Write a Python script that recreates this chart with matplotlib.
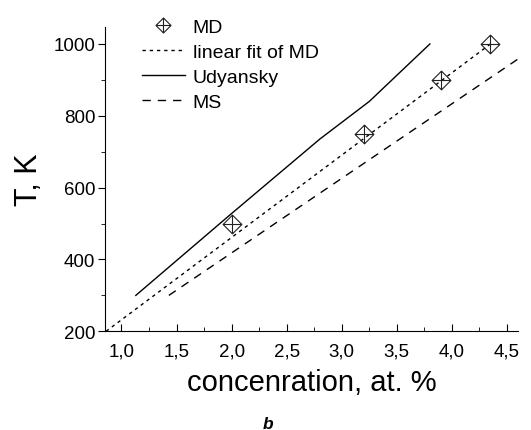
import matplotlib.pyplot as plt
from matplotlib.path import Path
from matplotlib.ticker import MultipleLocator, FuncFormatter

plt.rcParams['font.family'] = ['Liberation Sans', 'DejaVu Sans']

# MD points
md_x = [2.0, 3.2, 3.9, 4.35]
md_t = [500, 750, 900, 1000]

# linear fit of MD (as drawn)
fit_x = [0.86, 4.35]
fit_t = [200, 1000]

# Udyansky
ud_x = [1.13, 2.0, 2.8, 3.25, 3.8]
ud_t = [300, 528, 735, 840, 1000]

# MS
ms_x = [1.43, 4.6]
ms_t = [300, 958]

# diamond with a cross inside
diamond_cross = Path(
    [(0, 1), (1, 0), (0, -1), (-1, 0), (0, 1), (0, 1), (0, -1), (-1, 0), (1, 0)],
    [Path.MOVETO, Path.LINETO, Path.LINETO, Path.LINETO, Path.CLOSEPOLY,
     Path.MOVETO, Path.LINETO, Path.MOVETO, Path.LINETO],
)

fig = plt.figure(figsize=(5.31, 4.31), dpi=100)
ax = fig.add_axes([0.1977, 0.229, 0.7778, 0.7067])

ax.plot(md_x, md_t, linestyle='none', marker=diamond_cross, markersize=13.5,
        markerfacecolor='none', markeredgecolor='#222222', markeredgewidth=0.8,
        label='MD', zorder=3)
ax.plot(fit_x, fit_t, color='black', lw=1.0, linestyle=(0, (2.4, 2.8)),
        label='linear fit of MD')
ax.plot(ud_x, ud_t, color='black', lw=1.0, label='Udyansky')
ax.plot(ms_x, ms_t, color='black', lw=1.0, linestyle=(0, (6, 5)), label='MS')

ax.set_xlim(0.85, 4.6)
ax.set_ylim(200, 1048)

ax.spines['top'].set_visible(False)
ax.spines['right'].set_visible(False)

ax.xaxis.set_major_locator(MultipleLocator(0.5))
ax.xaxis.set_minor_locator(MultipleLocator(0.25))
ax.yaxis.set_major_locator(MultipleLocator(200))
ax.yaxis.set_minor_locator(MultipleLocator(100))
ax.xaxis.set_major_formatter(FuncFormatter(lambda v, p: f"{v:.1f}".replace('.', ',')))

ax.tick_params(axis='x', which='major', direction='in', length=5, labelsize=13.5, pad=8)
ax.tick_params(axis='x', which='minor', direction='in', length=3)
ax.tick_params(axis='y', which='major', direction='out', length=5, labelsize=13.5, pad=2)
ax.tick_params(axis='y', which='minor', direction='out', length=3)

ax.set_xlabel('concenration, at. %', fontsize=21, labelpad=6)
ax.set_ylabel('T, K', fontsize=22, labelpad=7)

leg = fig.legend(loc='upper left', bbox_to_anchor=(142 / 531, 1 - 19 / 431),
                 frameon=False, fontsize=14, handlelength=2.2, handletextpad=0.4,
                 labelspacing=0.39, borderpad=0, borderaxespad=0, markerscale=0.8)

fig.text(268 / 531, 1 - 425 / 431, 'b', fontsize=12.5, fontweight='bold',
         fontstyle='italic', ha='center', va='center')

fig.savefig('out.png', dpi=100)
